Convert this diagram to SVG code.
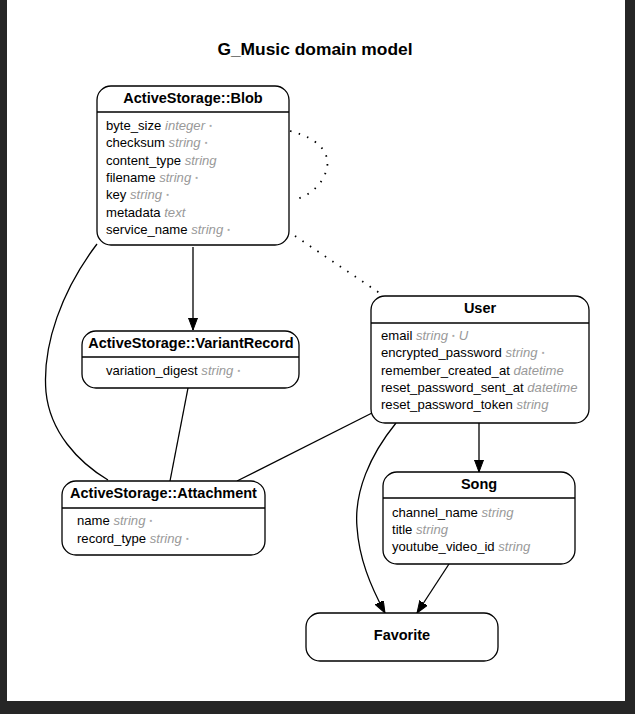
<svg xmlns="http://www.w3.org/2000/svg" width="635" height="714" viewBox="0 0 635 714">
<style>
.box{fill:#fff;stroke:#000;stroke-width:1.3}
.div{stroke:#000;stroke-width:1.3}
.hd{font-family:"Liberation Sans",Arial,sans-serif;font-weight:bold;font-size:14.5px;fill:#000;text-anchor:middle}
.at{font-family:"Liberation Sans",Arial,sans-serif;font-size:13.1px;fill:#000}
.ty{fill:#999;font-style:italic}
.mk{fill:#aaa;font-style:normal;font-size:13px;font-weight:bold}
.e{fill:none;stroke:#000;stroke-width:1.3}
.d{fill:none;stroke:#000;stroke-width:1.8;stroke-dasharray:1.5,7.5}
.title{font-family:"Liberation Sans",Arial,sans-serif;font-weight:bold;font-size:17.4px;fill:#000;text-anchor:middle}
</style>
<defs>
<marker id="arr" markerUnits="userSpaceOnUse" markerWidth="13" markerHeight="10" refX="12" refY="4.5" orient="auto" viewBox="0 0 13 10">
<path d="M0,0 L12,4.5 L0,9 z" fill="#000" stroke="#000" stroke-width="1"/>
</marker>
</defs>
<rect x="0" y="0" width="635" height="714" fill="#262626"/>
<rect x="7" y="0" width="618" height="701" fill="#fff"/>
<text class="title" x="315" y="55">G_Music domain model</text>

<g id="connectors">
<path class="e" d="M193,247 L193,330" marker-end="url(#arr)"/>
<path class="d" d="M290,131 C318,138 330,152 327,168 C323,185 309,196 294,200"/>
<path class="d" d="M295,236 L384,296"/>
<path class="e" d="M97,244 C62,290 42,345 46,392 C50,432 78,462 108,480"/>
<path class="e" d="M188,388 L170,481"/>
<path class="e" d="M372,413 L237,481"/>
<path class="e" d="M479,423 L479,472" marker-end="url(#arr)"/>
<path class="e" d="M396,423 C370,455 354,492 357,527 C359,558 370,585 385,613" marker-end="url(#arr)"/>
<path class="e" d="M449,564 L417,613" marker-end="url(#arr)"/>
</g>

<g id="blob">
<rect class="box" x="97" y="86" width="192" height="159" rx="14"/>
<line class="div" x1="97" y1="112" x2="289" y2="112"/>
<text class="hd" x="193" y="103">ActiveStorage::Blob</text>
<text class="at" x="106" y="130">byte_size <tspan class="ty">integer <tspan class="mk">∙</tspan></tspan></text>
<text class="at" x="106" y="147">checksum <tspan class="ty">string <tspan class="mk">∙</tspan></tspan></text>
<text class="at" x="106" y="165">content_type <tspan class="ty">string</tspan></text>
<text class="at" x="106" y="182">filename <tspan class="ty">string <tspan class="mk">∙</tspan></tspan></text>
<text class="at" x="106" y="199">key <tspan class="ty">string <tspan class="mk">∙</tspan></tspan></text>
<text class="at" x="106" y="217">metadata <tspan class="ty">text</tspan></text>
<text class="at" x="106" y="234">service_name <tspan class="ty">string <tspan class="mk">∙</tspan></tspan></text>
</g>

<g id="variantrecord">
<rect class="box" x="82" y="331" width="217" height="57" rx="14"/>
<line class="div" x1="82" y1="357" x2="299" y2="357"/>
<text class="hd" x="191" y="348">ActiveStorage::VariantRecord</text>
<text class="at" x="106" y="375">variation_digest <tspan class="ty">string <tspan class="mk">∙</tspan></tspan></text>
</g>

<g id="attachment">
<rect class="box" x="62" y="481" width="203" height="74" rx="14"/>
<line class="div" x1="62" y1="508" x2="265" y2="508"/>
<text class="hd" x="163.5" y="498">ActiveStorage::Attachment</text>
<text class="at" x="77" y="525">name <tspan class="ty">string <tspan class="mk">∙</tspan></tspan></text>
<text class="at" x="77" y="543">record_type <tspan class="ty">string <tspan class="mk">∙</tspan></tspan></text>
</g>

<g id="user">
<rect class="box" x="371" y="296" width="218" height="127" rx="14"/>
<line class="div" x1="371" y1="323" x2="589" y2="323"/>
<text class="hd" x="480" y="313">User</text>
<text class="at" x="381" y="340">email <tspan class="ty">string <tspan class="mk">∙</tspan> U</tspan></text>
<text class="at" x="381" y="357">encrypted_password <tspan class="ty">string <tspan class="mk">∙</tspan></tspan></text>
<text class="at" x="381" y="375">remember_created_at <tspan class="ty">datetime</tspan></text>
<text class="at" x="381" y="392">reset_password_sent_at <tspan class="ty">datetime</tspan></text>
<text class="at" x="381" y="409">reset_password_token <tspan class="ty">string</tspan></text>
</g>

<g id="song">
<rect class="box" x="383" y="472" width="192" height="92" rx="14"/>
<line class="div" x1="383" y1="498" x2="575" y2="498"/>
<text class="hd" x="479" y="489">Song</text>
<text class="at" x="392" y="517">channel_name <tspan class="ty">string</tspan></text>
<text class="at" x="392" y="534">title <tspan class="ty">string</tspan></text>
<text class="at" x="392" y="551">youtube_video_id <tspan class="ty">string</tspan></text>
</g>

<g id="favorite">
<rect class="box" x="306" y="613" width="192" height="48" rx="14"/>
<text class="hd" x="402" y="640">Favorite</text>
</g>
</svg>
